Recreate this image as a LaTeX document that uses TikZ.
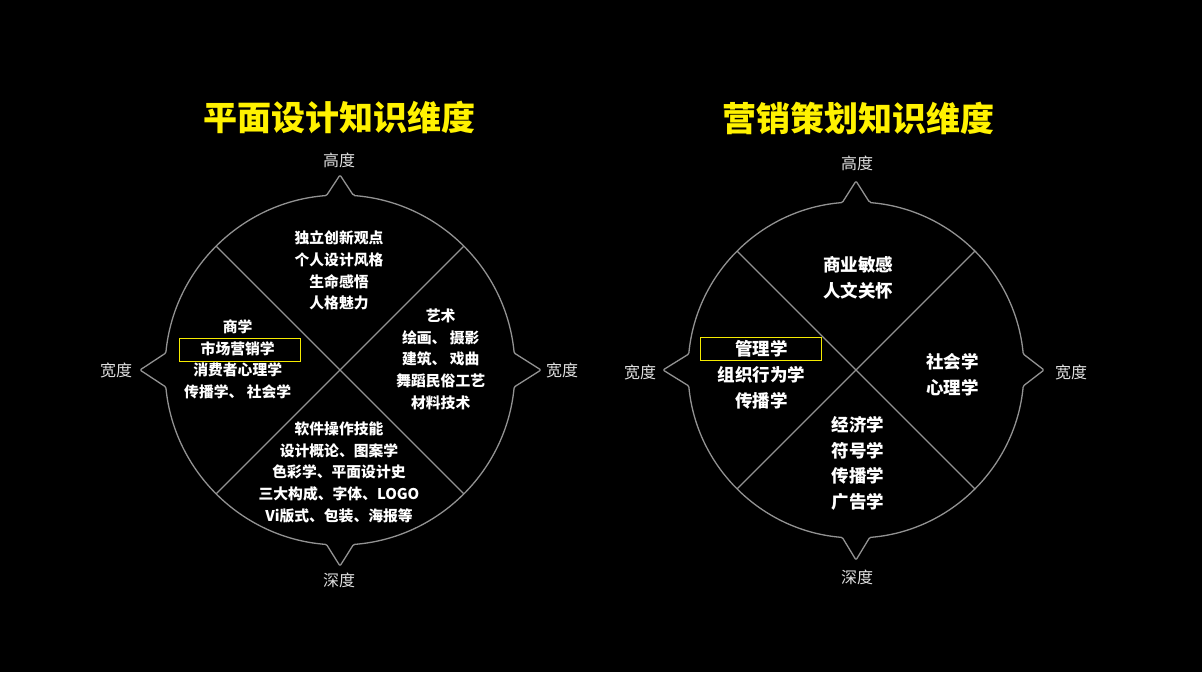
\documentclass[tikz,border=0pt]{standalone}
\usepackage{fontspec}
\newfontfamily\cjk{Noto Sans CJK SC}
\usetikzlibrary{calc}
\definecolor{ringgray}{HTML}{929292}
\definecolor{titleyellow}{HTML}{FFF200}
\definecolor{boxyellow}{HTML}{F5EB00}
\definecolor{axisgray}{HTML}{E0E0E0}
\tikzset{
  ringline/.style={draw=ringgray, line width=1.3pt, line join=round},
  titletext/.style={text=titleyellow, font=\cjk\bfseries\fontsize{34}{40}\selectfont, inner sep=0pt},
  axistext/.style={text=axisgray, font=\cjk\fontsize{16}{18}\selectfont, inner sep=0pt},
  smalltext/.style={text=white, align=center, inner sep=0pt, font=\cjk\bfseries\fontsize{14.8}{21.7}\selectfont},
  bigtext/.style={text=white, align=center, inner sep=0pt, font=\cjk\bfseries\fontsize{17.5}{25.7}\selectfont},
  markbox/.style={draw=boxyellow, line width=1.2pt, inner sep=0pt},
}
% #1 cx, #2 cy, #3 r, #4 half-width top/bottom, #5 half-width left/right,
% #6 h top, #7 h bottom, #8 h left, #9 h right
\newcommand{\spikering}[9]{%
  \pgfmathsetmacro\aTB{asin(#4/#3)}%
  \pgfmathsetmacro\aLR{asin(#5/#3)}%
  \pgfmathsetmacro\rT{#3+#6}%
  \pgfmathsetmacro\rB{#3+#7}%
  \pgfmathsetmacro\rL{#3+#8}%
  \pgfmathsetmacro\rR{#3+#9}%
  \begin{scope}[shift={(#1,#2)}]
  \draw[ringline, rounded corners=1.2pt]
    (90-\aTB:#3) -- (0,\rT) -- (90+\aTB:#3)
    arc[start angle=90+\aTB, end angle=180-\aLR, radius=#3]
    -- (-\rL,0) -- (180+\aLR:#3)
    arc[start angle=180+\aLR, end angle=270-\aTB, radius=#3]
    -- (0,-\rB) -- (270+\aTB:#3)
    arc[start angle=270+\aTB, end angle=360-\aLR, radius=#3]
    -- (\rR,0) -- (\aLR:#3)
    arc[start angle=\aLR, end angle=90-\aTB, radius=#3] -- cycle;
  \draw[ringline] (45:#3) -- (225:#3);
  \draw[ringline] (135:#3) -- (315:#3);
  \end{scope}%
}
\begin{document}
\begin{tikzpicture}[x=1pt,y=1pt]
\useasboundingbox (0,0) rectangle (1202,672);
\fill[black] (0,0) rectangle (1202,672);

% ---------- left diagram ----------
\spikering{340}{302}{175}{13.5}{17}{20}{21}{25}{26}
\node[titletext] (t1) at (339,554) {平面设计知识维度};
\node[axistext] (l1top) at (339,512) {高度};
\node[axistext] (l1bot) at (339,92) {深度};
\node[axistext] (l1left) at (116,302) {宽度};
\node[axistext] (l1right) at (562,302) {宽度};

\node[smalltext] (q1top) at (339,401.5) {独立创新观点\\个人设计风格\\生命感悟\\人格魅力};
\node[smalltext] (q1left) at (237.7,312.7) {商学\\市场营销学\\消费者心理学\\传播学、 社会学};
\node[markbox, minimum width=121.4pt, minimum height=23.4pt] (b1) at (240,322) {};
\node[smalltext] (q1right) at (440.7,312.7) {艺术\\绘画、 摄影\\建筑、 戏曲\\舞蹈民俗工艺\\材料技术};
\node[smalltext] (q1bot) at (339,199.8) {软件操作技能\\设计概论、图案学\\色彩学、平面设计史\\三大构成、字体、LOGO\\Vi版式、包装、海报等};

% ---------- right diagram ----------
\spikering{856}{302}{168}{13.7}{16}{21}{22}{25}{20}
\node[titletext] (t2) at (858,554) {营销策划知识维度};
\node[axistext] (l2top) at (857,509) {高度};
\node[axistext] (l2bot) at (857,95) {深度};
\node[axistext] (l2left) at (640,300) {宽度};
\node[axistext] (l2right) at (1071,300) {宽度};

\node[bigtext] (q2top) at (858,394.2) {商业敏感\\人文关怀};
\node[bigtext] (q2left) at (761.7,297) {管理学\\组织行为学\\传播学};
\node[markbox, minimum width=121.4pt, minimum height=23.4pt] (b2) at (761,323) {};
\node[bigtext] (q2right) at (952.3,297) {社会学\\心理学};
\node[bigtext] (q2bot) at (858,208.7) {经济学\\符号学\\传播学\\广告学};
\end{tikzpicture}
\end{document}
